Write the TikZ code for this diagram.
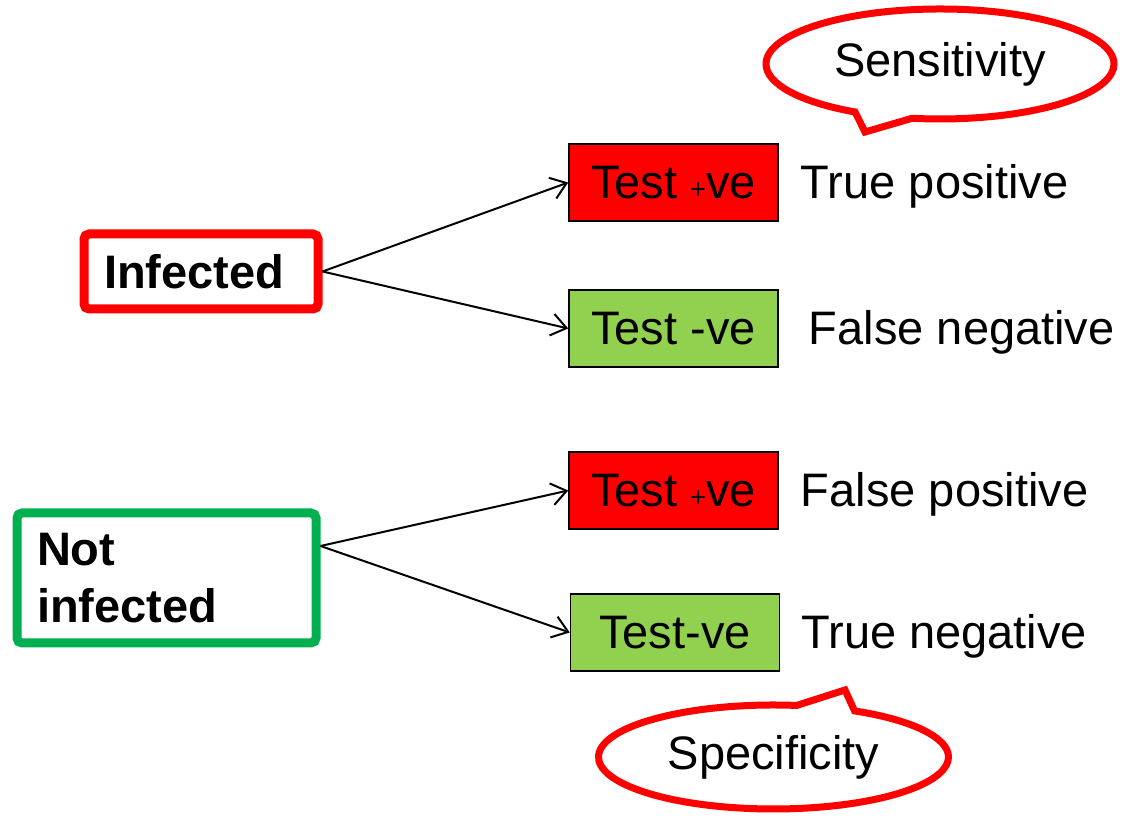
\documentclass[tikz,border=0pt]{standalone}
\usepackage{fontspec}
\setmainfont{Liberation Sans}
\usetikzlibrary{positioning, shapes.callouts, arrows.meta}

\definecolor{posred}{RGB}{255,0,0}
\definecolor{negfill}{RGB}{146,208,80}
\definecolor{okgreen}{RGB}{0,176,80}
\newcommand{\smallplus}{{\fontsize{27}{30}\selectfont +}}

\begin{document}
\begin{tikzpicture}[x=1pt, y=1pt,
    group/.style={draw, line width=9pt, rounded corners=5pt, align=left, inner xsep=20pt, inner ysep=0pt,
        font=\fontsize{47}{57}\selectfont\bfseries},
    testbox/.style={draw=black, line width=1.5pt, minimum width=209pt, minimum height=77pt, inner sep=0pt,
        font=\fontsize{47}{56}\selectfont},
    outcome/.style={inner sep=0pt, yshift=-4pt, font=\fontsize{47}{56}\selectfont},
    bubble/.style={ellipse callout, draw=posred, line width=7pt, fill=white, inner sep=0pt,
        callout pointer arc=20, font=\fontsize{47}{56}\selectfont},
    branch/.style={line width=2pt, -{Straight Barb[length=15pt, width=22pt]}}]
    \useasboundingbox (0,0) rectangle (1122,818);

    % who is tested
    \node[group, draw=posred, text width=194pt, minimum height=75pt] (inf) at (201,546.5) {Infected};
    \node[group, draw=okgreen, text width=259pt, minimum height=130pt] (notinf) at (166.5,240) {Not\\infected};

    % test results
    \node[testbox, fill=posred] (tp) at (673.5,635.5) {Test \smallplus ve};
    \node[testbox, fill=negfill] (fn) at (673.5,489.5) {Test -ve};
    \node[testbox, fill=posred] (fp) at (673.5,327.5) {Test \smallplus ve};
    \node[testbox, fill=negfill] (tn) at (675,185.5) {Test-ve};

    \node[outcome, right=22pt of tp] (tplabel) {True positive};
    \node[outcome, right=30pt of fn] (fnlabel) {False negative};
    \node[outcome, right=22pt of fp] (fplabel) {False positive};
    \node[outcome, right=21pt of tn] (tnlabel) {True negative};

    % arrows
    \coordinate (nistart) at ([yshift=32pt]notinf.east);
    \draw[branch] (inf.east) -- (tp.west);
    \draw[branch] (inf.east) -- (fn.west);
    \draw[branch] (nistart) -- (fp.west);
    \draw[branch] (nistart) -- (tn.west);

    % callouts
    \coordinate (senstip) at (865,686);
    \coordinate (spectip) at (845,128);
    \node[bubble, minimum width=348pt, minimum height=110pt, callout absolute pointer={(senstip)}] (sens) at (940,754) {Sensitivity};
    \node[bubble, minimum width=350pt, minimum height=104pt, callout absolute pointer={(spectip)}] (spec) at (773.5,61) {Specificity};
\end{tikzpicture}
\end{document}
